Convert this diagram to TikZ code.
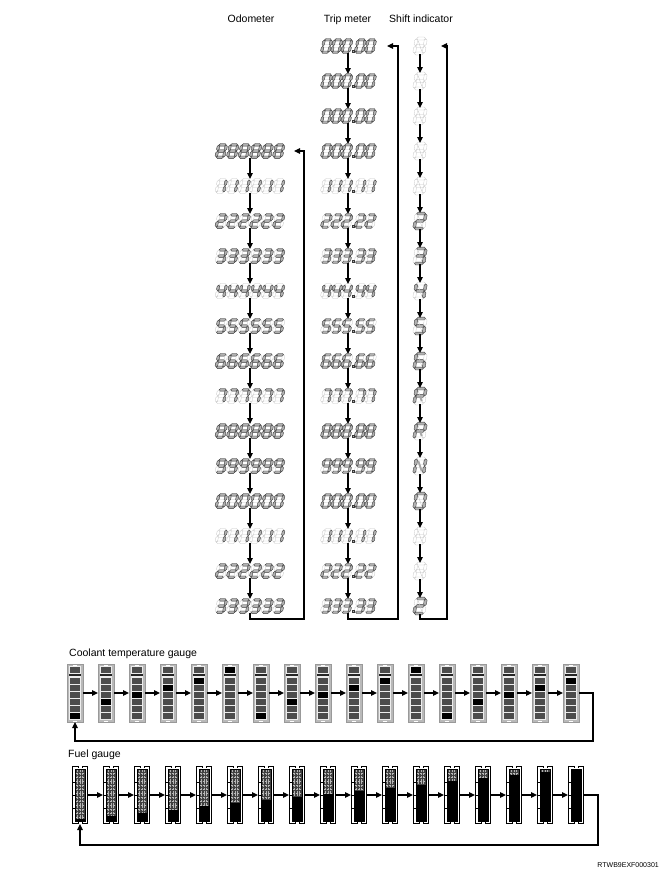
\documentclass[tikz,border=0pt]{standalone}
\usepackage{fontspec}
\setmainfont{Liberation Sans}
\usetikzlibrary{arrows.meta}
\tikzset{
 segon/.style={fill=gray!60, draw=gray!45!black, line width=0.4pt},
 segoff/.style={fill=white, draw=gray!45, line width=0.3pt},
 diagon/.style={draw=gray!70, line width=1.8pt},
 diagoff/.style={draw=gray!45, line width=0.4pt},
 disp/.style={inner sep=0pt, outer sep=0pt, minimum height=14pt},
 gnode/.style={inner sep=0pt, outer sep=0pt, minimum width=16pt, minimum height=58pt},
 arr/.style={line width=1.2pt, -{Triangle[length=6pt,width=5.5pt]}},
 hdr/.style={font=\fontsize{10.5}{12}\selectfont, anchor=base, inner sep=0pt},
}
\makeatletter
\newcommand\hseg[2]{\filldraw[#2] ({\sG},{#1}) -- ({\sG+\sTh},{#1+\sTh}) -- ({\sW-\sG-\sTh},{#1+\sTh}) -- ({\sW-\sG},{#1}) -- ({\sW-\sG-\sTh},{#1-\sTh}) -- ({\sG+\sTh},{#1-\sTh}) -- cycle;}
\newcommand\vseg[4]{\filldraw[#4] ({#1},{#2+\sG}) -- ({#1+\sTh},{#2+\sG+\sTh}) -- ({#1+\sTh},{#3-\sG-\sTh}) -- ({#1},{#3-\sG}) -- ({#1-\sTh},{#3-\sG-\sTh}) -- ({#1-\sTh},{#2+\sG+\sTh}) -- cycle;}
\newcommand\segtest[1]{\edef\segtmp{\noexpand\in@{#1}{\cursegs}}\segtmp}
\newcommand\sevseg[3]{%
 \edef\cursegs{#3}%
 \begin{scope}[shift={({#1},{#2})},yscale=-1,xslant=\sSl,shift={({-\sW/2},{-\sH/2})}]
  \segtest{a}\ifin@\hseg{\sH}{segon}\else\hseg{\sH}{segoff}\fi
  \segtest{g}\ifin@\hseg{\sH/2}{segon}\else\hseg{\sH/2}{segoff}\fi
  \segtest{d}\ifin@\hseg{0}{segon}\else\hseg{0}{segoff}\fi
  \segtest{f}\ifin@\vseg{0}{\sH/2}{\sH}{segon}\else\vseg{0}{\sH/2}{\sH}{segoff}\fi
  \segtest{e}\ifin@\vseg{0}{0}{\sH/2}{segon}\else\vseg{0}{0}{\sH/2}{segoff}\fi
  \segtest{b}\ifin@\vseg{\sW}{\sH/2}{\sH}{segon}\else\vseg{\sW}{\sH/2}{\sH}{segoff}\fi
  \segtest{c}\ifin@\vseg{\sW}{0}{\sH/2}{segon}\else\vseg{\sW}{0}{\sH/2}{segoff}\fi
  \ifx\sDiag\@empty\else
   \segtest{h}\ifin@\draw[diagon] ({\sTh+0.8},{\sH-\sTh-0.8}) -- ({\sW/2},{\sH/2});\else\draw[diagoff] ({\sTh+0.8},{\sH-\sTh-0.8}) -- ({\sW/2},{\sH/2});\fi
   \segtest{i}\ifin@\draw[diagon] ({\sW/2},{\sH/2}) -- ({\sW-\sTh-0.8},{\sTh+0.8});\else\draw[diagoff] ({\sW/2},{\sH/2}) -- ({\sW-\sTh-0.8},{\sTh+0.8});\fi
  \fi
 \end{scope}}
\makeatother
\begin{document}
\begin{tikzpicture}[x=1pt,y=-1pt]
\useasboundingbox (0,0) rectangle (663,871);
% headers
\node[hdr] (h1) at (251,22) {Odometer};
\node[hdr] (h2) at (347.5,22) {Trip meter};
\node[hdr] (h3) at (421,22) {Shift indicator};
\node[hdr, anchor=base west] (h4) at (69,656) {Coolant temperature gauge};
\node[hdr, anchor=base west] (h5) at (68,757) {Fuel gauge};
\node[font=\fontsize{7}{8}\selectfont, anchor=base east, inner sep=0pt] (h6) at (659,867) {RTWB9EXF000301};
% odometer
\def\sW{7.6}\def\sH{12.5}\def\sTh{1.3}\def\sG{0.35}\def\sSl{-0.22}\def\sDiag{}
\foreach \k/\L in {3/abcdefg,4/bc,5/abdeg,6/abcdg,7/bcfg,8/acdfg,9/acdefg,10/abc,11/abcdefg,12/abcdfg,13/abcdef,14/bc,15/abdeg,16/abcdg}{
 \node[disp, minimum width=70pt] (o\k) at (250,{46+35*\k}) {};
 \foreach \i in {0,...,5}{\sevseg{250+(\i-2.5)*11.5}{46+35*\k}{\L}}
}
% trip meter
\def\sW{7.2}\def\sTh{1.25}
\foreach \k/\L in {0/abcdef,1/abcdef,2/abcdef,3/abcdef,4/bc,5/abdeg,6/abcdg,7/bcfg,8/acdfg,9/acdefg,10/abc,11/abcdefg,12/abcdfg,13/abcdef,14/bc,15/abdeg,16/abcdg}{
 \node[disp, minimum width=56pt] (t\k) at (348,{46+35*\k}) {};
 \foreach \d in {-21.5,-11.3,-1.1,12.3,22.5}{\sevseg{348+(\d)}{46+35*\k}{\L}}
 \fill[segon] (352.3,{46+35*\k+4.4}) rectangle ++(2,2);
}
% shift indicator
\def\sW{9.5}\def\sH{15}\def\sTh{1.45}\def\sDiag{1}\def\sSl{-0.15}
\foreach \k/\L in {0/z,1/z,2/z,3/z,4/z,5/abdeg,6/abcdg,7/bcfg,8/acdfg,9/acdefg,10/abefgi,11/abefgi,12/bcefhi,13/abcdef,14/z,15/z,16/abdeg}{
 \node[disp, minimum width=14pt, minimum height=16pt] (s\k) at (420,{46+35*\k}) {};
 \sevseg{420}{46+35*\k}{\L}
}
% vertical arrows
\foreach \k in {3,...,15}{\pgfmathtruncatemacro\n{\k+1}\draw[arr] (o\k.south) -- (o\n.north);}
\foreach \k in {0,...,15}{\pgfmathtruncatemacro\n{\k+1}\draw[arr] (t\k.south) -- (t\n.north);}
\foreach \k in {0,...,15}{\pgfmathtruncatemacro\n{\k+1}\draw[arr] (s\k.south) -- (s\n.north);}
% loops
\coordinate (oL) at (304,619);
\coordinate (tL) at (398,619);
\coordinate (sL) at (447,619);
\draw[arr] (o16.south) |- (oL) |- ([xshift=9pt]o3.east);
\draw[arr] (t16.south) |- (tL) |- ([xshift=11pt]t0.east);
\draw[arr] (s16.south) |- (sL) |- ([xshift=14pt]s0.east);
% coolant gauges
\foreach \k/\lit in {1/1,2/3,3/4,4/5,5/6,6/7,7/1,8/3,9/4,10/5,11/6,12/7,13/1,14/3,15/4,16/5,17/6}{
 \node[gnode] (c\k) at ({75+31*(\k-1)},693) {};
 \begin{scope}[shift={(c\k.north west)}]
  \filldraw[fill=gray!55, draw=gray!80, line width=0.4pt] (0,0) rectangle (16,58);
  \fill[gray!15] (2,2) rectangle (14,56);
  \ifnum\lit=7 \def\cc{black}\else\def\cc{black!70}\fi
  \fill[fill=\cc] (3,3) rectangle (13,8.5);
  \fill[black!85] (2,9.5) rectangle (14,12);
  \foreach \i in {1,...,6}{
   \ifnum\i=\lit \def\cc{black}\else\def\cc{black!70}\fi
   \fill[fill=\cc] (3,{56.3-7*\i}) rectangle (13,{62-7*\i});
  }
  \draw[white, line width=0.6pt] (6,1) -- (10,1) (6,57) -- (10,57);
 \end{scope}
}
\foreach \k in {1,...,16}{\pgfmathtruncatemacro\n{\k+1}\draw[arr] (c\k.east) -- (c\n.west);}
\coordinate (cL) at (593,741);
\draw[arr] (c17.east) -| (cL) -| (c1.south);
% fuel gauges
\foreach \k in {1,...,17}{
 \pgfmathsetmacro\lev{52*(0.04+0.06*(\k-1))}
 \node[gnode] (f\k) at ({80+31*(\k-1)},795) {};
 \begin{scope}[shift={(f\k.north west)}]
  \draw[line width=0.9pt, fill=white] (0.45,0.45) rectangle (15.55,57.55);
  \fill[white] (6,-0.5) rectangle (10,1.5);
  \fill[white] (6,56.5) rectangle (10,58.5);
  \draw[line width=0.7pt] (6,0.45) -- (6,2.4) (10,0.45) -- (10,2.4) (6,57.55) -- (6,55.6) (10,57.55) -- (10,55.6);
  \fill[black!75] (3,3) rectangle (13,55);
  \foreach \xx in {5.5,8,10.5}{\draw[gray!60, line width=0.4pt, dash pattern=on 0.6pt off 0.9pt] (\xx,3.5) -- (\xx,54.5);}
  \foreach \yy in {7,11,...,51}{\draw[gray!55, line width=0.35pt, dash pattern=on 0.6pt off 0.9pt] (3.5,\yy) -- (12.5,\yy);}
  \fill[black] (3,{55-\lev}) rectangle (13,55);
  \draw[line width=0.6pt] (3,3) rectangle (13,55);
  \draw[line width=0.5pt] (0.45,16) -- (3,16) (0.45,29) -- (3,29) (0.45,42) -- (3,42);
 \end{scope}
}
\foreach \k in {1,...,16}{\pgfmathtruncatemacro\n{\k+1}\draw[arr] (f\k.east) -- (f\n.west);}
\coordinate (fL) at (598,845);
\draw[arr] (f17.east) -| (fL) -| (f1.south);
\end{tikzpicture}
\end{document}
